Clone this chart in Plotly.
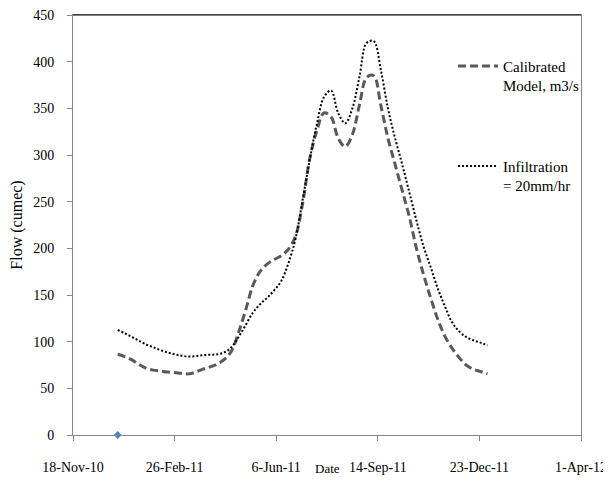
import plotly.graph_objects as go
import pandas as pd

# ---- data ----
dates = pd.date_range("2011-01-01", "2011-12-31", freq="7D").strftime("%Y-%m-%d").tolist()
if dates[-1] != "2011-12-31":
    dates.append("2011-12-31")

calibrated = [86.5, 84, 80.5, 75.5, 71.5, 69.5, 68.5, 67.5, 67, 66, 65.5, 67.5, 70.5,
              73, 76, 81, 90, 110, 134, 160, 175, 183, 188, 192, 199, 213, 248, 296,
              326, 345, 341, 318, 309, 322, 354, 383, 385, 353, 318, 290, 262, 234, 200,
              172, 147, 124, 106, 93, 83, 75, 70.5, 68, 65.5]

infiltration = [112.5, 109, 105, 101, 97, 94, 91, 88.5, 86.5, 85, 84, 84.5, 85.5,
                86, 86.5, 88.5, 94, 105, 118, 131, 140, 147, 155, 165, 184, 210, 252, 295,
                333, 362, 369, 345, 334, 350, 384, 420, 422, 391, 350, 318, 290, 260, 230,
                202, 180, 157, 138, 121, 111, 105, 101.5, 99, 96]

observed_dates = ["2011-01-01"]
observed_values = [0]

tick_dates = ["2010-11-18", "2011-02-26", "2011-06-06", "2011-09-14", "2011-12-23", "2012-04-01"]
tick_labels = ["18-Nov-10", "26-Feb-11", "6-Jun-11", "14-Sep-11", "23-Dec-11", "1-Apr-12"]
y_ticks = [0, 50, 100, 150, 200, 250, 300, 350, 400, 450]

n = min(len(dates), len(calibrated), len(infiltration))

font_family = "Liberation Serif"

fig = go.Figure()
fig.add_trace(go.Scatter(
    x=observed_dates, y=observed_values, mode="markers",
    marker=dict(symbol="diamond", color="#4F81BD", size=6),
    cliponaxis=False, showlegend=False, hoverinfo="skip"))
fig.add_trace(go.Scatter(
    x=dates[:n], y=calibrated[:n], mode="lines",
    name="Calibrated<br>Model, m3/s", legend="legend",
    line=dict(color="#595959", width=3, dash="8px,4px", shape="spline", smoothing=1)))
fig.add_trace(go.Scatter(
    x=dates[:n], y=infiltration[:n], mode="lines",
    name="Infiltration<br>= 20mm/hr", legend="legend2",
    line=dict(color="#000000", width=2, dash="2px,2px", shape="spline", smoothing=1)))

legend_common = dict(xanchor="left", yanchor="top", bgcolor="rgba(0,0,0,0)",
                     valign="top", itemwidth=40,
                     font=dict(family=font_family, size=15, color="#000000"))

# page body has an 8px margin, so the figure is sized to fit the 611x485 window
fig.update_layout(
    width=603, height=469,
    margin=dict(l=65, r=30, t=7, b=42, autoexpand=False),
    paper_bgcolor="white", plot_bgcolor="white",
    font=dict(family=font_family, size=14, color="#000000"),
    legend=dict(x=0.748, y=0.917, **legend_common),
    legend2=dict(x=0.748, y=0.679, **legend_common),
    showlegend=True,
)
fig.update_xaxes(
    type="date", range=[tick_dates[0], tick_dates[-1]],
    tickmode="array", tickvals=tick_dates, ticktext=tick_labels,
    ticks="outside", ticklen=5, tickcolor="#868686", ticklabelstandoff=14,
    ticklabeloverflow="allow",
    showline=True, linecolor="#868686", linewidth=1, mirror=True,
    showgrid=False, zeroline=False, automargin=False,
    tickfont=dict(family=font_family, size=14))
fig.update_yaxes(
    range=[0, 450], tickmode="array", tickvals=y_ticks,
    ticks="outside", ticklen=5, tickcolor="#868686", ticklabelstandoff=10,
    ticklabeloverflow="allow",
    showline=True, linecolor="#868686", linewidth=1, mirror=True,
    showgrid=False, zeroline=False, automargin=False,
    title=dict(text="Flow (cumec)", standoff=8, font=dict(family=font_family, size=16)),
    tickfont=dict(family=font_family, size=14))
fig.add_shape(type="line", xref="paper", yref="paper", x0=0, x1=1, y0=1, y1=1,
              line=dict(color="#000000", width=1))
fig.add_annotation(text="Date", xref="paper", yref="paper", x=0.5, y=-0.079,
                   xanchor="center", yanchor="middle", showarrow=False,
                   font=dict(family=font_family, size=13, color="#000000"))

fig.write_html("out.html")
